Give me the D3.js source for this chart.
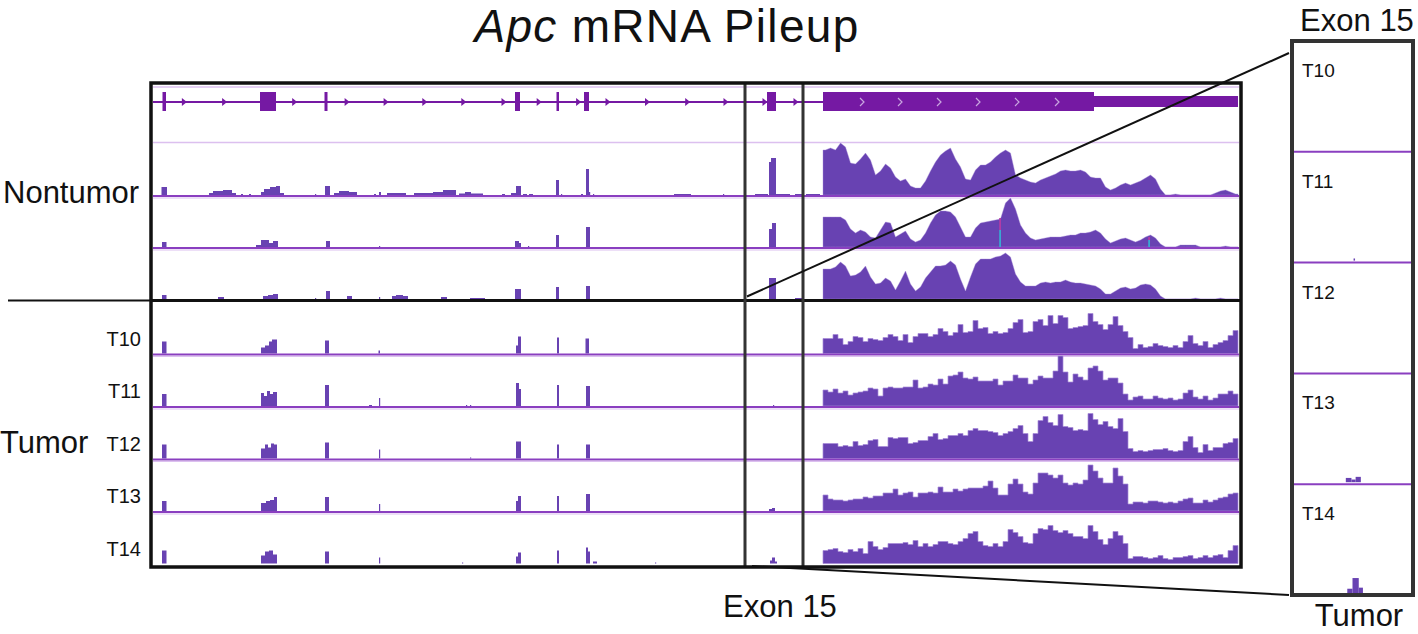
<!DOCTYPE html>
<html><head><meta charset="utf-8">
<script src="https://cdn.jsdelivr.net/npm/d3@7"></script>
<style>body{margin:0;background:#fff}svg{display:block}text{font-family:"Liberation Sans",Arial,Helvetica,sans-serif;fill:#111}</style>
</head><body><svg id="chart" width="1418" height="634"></svg>
<script>
// ---------------- DATA (positions in kb along the Apc locus, coverage in reads-scale units) ----------------
const locusKb = [0, 108.6];
const exonBoxKb = [59.2, 65.0];            // boxed region around exon 15
const exons = [
  {s:0.95, e:1.3,  t:"cds"}, {s:10.7, e:12.3, t:"cds"}, {s:17.15, e:17.45, t:"cds"},
  {s:36.2, e:36.7, t:"cds"}, {s:40.35, e:40.6, t:"cds"}, {s:43.1, e:43.6, t:"cds"},
  {s:61.4, e:62.3, t:"cds"}, {s:67.0, e:94.1, t:"cds"}, {s:94.1, e:108.5, t:"utr"}
];
const intronArrowsKb = [3.14, 7.16, 14.17, 19.41, 23.31, 27.18, 31.08, 35.1, 38.62, 42.56, 45.5, 49.45, 53.47, 57.3, 61.2, 64.3];
const chevronsKb = [70.9, 74.7, 78.6, 82.5, 86.4, 90.4];

const nontumorSamples = ["N1", "N2", "N3"];
const tumorSamples = ["T10", "T11", "T12", "T13", "T14"];

// last exon coverage: bins of 0.5 kb starting at 67.0 kb
const binStartKb = 67.0, binWidthKb = 0.5;
const covN1 = [45,47,45,52,48,32,31,36,42,35,20,24,31,27,18,14,16,9,7,7,14,24,33,40,44,47,36,28,16,15,25,30,30,33,38,42,45,42,20,17,15,13,12,15,17,19,21,24,25,24,24,25,23,18,17,17,8,5,7,10,12,10,12,14,17,20,16,6,0,0,1,0,0,0,0,0,0,0,2,4,5,3,1];
const covN2 = [30,30,30,30,27,18,14,17,15,10,9,17,25,24,10,13,16,8,5,7,14,24,32,36,36,35,30,20,10,10,19,24,25,26,27,28,44,49,38,22,14,9,7,8,9,10,10,10,11,12,12,14,14,15,17,14,8,4,6,8,9,7,5,7,10,12,9,3,0,0,0,2,2,2,2,0,0,0,0,0,1,0,0];
const covN3 = [30,30,32,37,33,23,24,27,33,22,15,16,21,18,9,18,28,15,8,12,21,27,33,33,34,38,34,20,8,22,35,40,40,40,42,43,46,42,25,17,13,13,13,16,17,16,17,17,19,17,16,16,15,14,13,10,5,5,8,11,12,10,11,14,15,14,10,3,0,0,0,0,0,0,1,0,0,0,0,1,0,0,0];
const covT10 = [15,15,19,15,9,12,17,16,12,15,14,13,16,19,17,13,19,11,17,20,20,17,19,25,22,18,21,29,21,22,33,25,26,20,22,20,21,25,31,34,21,22,32,34,28,38,30,38,36,25,26,27,28,40,32,29,24,29,37,28,22,16,5,9,6,7,10,8,7,6,8,6,12,18,10,8,12,6,9,11,13,18,23];
const covT11 = [16,14,17,13,15,11,13,14,15,18,17,10,18,19,18,18,19,19,26,18,19,22,21,27,22,30,31,34,28,27,29,25,25,25,27,21,25,25,31,28,28,22,26,30,28,28,35,50,34,24,32,29,26,38,40,35,26,28,28,23,12,6,9,10,7,7,10,8,7,8,6,7,13,16,9,7,10,6,8,12,12,15,12];
const covT12 = [15,15,15,12,13,12,17,13,14,18,19,12,12,21,20,21,21,15,16,18,18,22,25,19,20,23,23,25,23,28,30,28,28,27,26,23,25,27,30,33,25,17,25,38,42,36,33,44,32,31,28,29,28,45,39,34,37,32,30,40,27,10,7,8,7,8,9,9,10,8,7,8,17,22,11,6,14,8,11,11,15,16,20];
const covT13 = [16,12,11,11,10,11,12,12,14,13,15,15,18,18,22,16,18,19,14,18,18,19,18,24,19,19,22,20,22,23,23,23,25,30,23,16,16,27,32,27,19,17,28,38,38,36,33,36,28,26,28,27,31,46,40,33,28,28,43,35,27,7,9,9,8,10,10,9,8,9,8,10,12,13,8,8,11,9,11,13,14,17,18];
const covT14 = [13,14,15,12,11,14,12,15,10,22,17,14,16,20,20,20,21,19,23,17,20,17,19,22,22,20,19,22,25,30,32,22,18,17,20,17,22,34,31,27,21,20,30,35,34,38,33,31,33,30,27,27,25,38,32,24,19,25,32,28,20,5,7,7,6,5,6,8,5,4,6,6,7,8,5,6,8,6,8,9,6,13,18];

// upstream exon / intron coverage: [startKb, endKb, value]
const peaksN1 = [[0.85,1.4,8],[5.6,6.0,2],[6.0,7.0,4],[7.0,7.9,5],[7.9,8.3,2],[8.8,9.0,1],[9.6,9.8,1],[10.8,11.1,3],[11.1,11.7,6],[11.7,12.3,8],[12.3,12.7,9],[12.7,13.1,2],[16.2,16.3,1],[17.2,17.7,9],[18.1,18.6,2],[18.6,19.6,4],[19.6,20.4,3],[22.1,22.3,1],[22.6,22.8,3],[23.4,25.3,2],[26.1,28.0,2],[28.0,29.0,3],[29.0,30.3,5],[30.6,31.2,1.5],[31.2,31.8,3],[31.8,33.0,1.5],[34.9,35.2,1],[35.8,36.3,2],[36.3,36.8,9],[37.0,37.4,1],[37.6,38.0,1],[40.3,40.6,15],[40.8,40.9,1],[42.8,43.0,1],[43.3,43.6,26],[43.6,43.7,3],[44.0,44.1,1],[52.1,53.8,1],[57.0,57.1,1],[60.2,61.5,1],[61.6,61.8,33],[61.8,62.3,37],[62.3,63.7,1],[64.2,65.0,1],[65.3,66.7,1]];
const peaksN2 = [[0.9,1.35,5],[10.3,10.8,2],[10.8,11.6,7],[11.6,12.0,4],[12.0,12.5,6],[17.3,17.7,6],[22.6,22.7,1],[36.2,36.6,6],[36.6,36.8,4],[37.5,37.6,1],[40.3,40.6,12],[43.3,43.7,20],[61.6,61.9,18],[61.9,62.3,24]];
const peaksN3 = [[0.9,1.35,4],[6.5,7.1,2],[11.0,11.5,3],[11.5,12.0,4],[12.0,12.5,5],[16.2,16.3,1],[17.3,17.7,8],[19.4,19.9,3],[22.6,22.7,2],[23.9,24.3,3],[24.3,25.0,4],[25.0,25.5,3],[28.8,29.4,2],[31.7,33.2,1],[36.2,36.8,10],[40.3,40.6,12],[43.3,43.7,13],[61.6,62.3,21],[64.2,64.9,1]];
const peaksT10 = [[0.9,1.35,12],[10.8,11.2,6],[11.2,11.6,8],[11.6,11.9,12],[11.9,12.4,14],[17.2,17.6,13],[22.55,22.7,3],[36.3,36.5,8],[36.5,36.8,17],[40.4,40.6,16],[43.25,43.6,15]];
const peaksT11 = [[0.9,1.35,12],[10.8,11.1,13],[11.1,11.4,10],[11.4,11.7,15],[11.7,12.0,12],[12.0,12.4,14],[17.2,17.6,21],[21.6,21.9,1],[22.6,22.7,8],[31.3,31.4,1],[31.7,31.8,1],[36.3,36.6,23],[36.6,36.8,17],[40.4,40.6,21],[43.3,43.7,20],[62.0,62.1,1]];
const peaksT12 = [[0.9,1.35,14],[10.8,11.2,10],[11.2,11.5,14],[11.5,11.8,11],[11.8,12.1,15],[12.1,12.4,14],[17.2,17.6,16],[22.6,22.7,9],[31.7,31.8,1],[36.3,36.8,17],[40.4,40.6,14],[43.3,43.7,14]];
const peaksT13 = [[0.9,1.35,10],[10.8,11.3,8],[11.3,11.7,10],[11.7,12.1,11],[12.1,12.4,14],[17.2,17.6,14],[22.6,22.7,7],[36.3,36.5,10],[36.5,36.8,15],[40.4,40.6,15],[43.3,43.7,17],[61.6,61.9,2],[61.9,62.2,3]];
const peaksT14 = [[0.9,1.35,13],[10.8,11.2,8],[11.2,11.6,12],[11.6,12.0,13],[12.0,12.4,9],[17.2,17.6,12],[22.6,22.7,6],[30.9,31.0,1],[36.3,36.5,7],[36.5,36.8,11],[40.4,40.6,13],[43.3,43.5,16],[43.5,43.7,12],[44.0,44.4,2],[50.2,50.3,1],[61.7,61.9,3],[61.9,62.2,6],[62.2,62.4,2]];

// mismatch bars in nontumor sample 2: [kb, lowerValue, upperValue]
const mismatchN2 = [[84.7, 17, 29], [99.6, 7, 10]];

// exon 15 zoom (tumor), autoscaled: [startKb, endKb, value]
const zoomT10 = [];
const zoomT11 = [[62.15, 62.22, 2]];
const zoomT12 = [];
const zoomT13 = [[61.78, 62.05, 4], [62.05, 62.25, 2.5], [62.25, 62.5, 5]];
const zoomT14 = [[61.85, 62.1, 4], [62.1, 62.4, 14], [62.4, 62.6, 5]];

// ---------------- DRAWING ----------------
const svg = d3.select("#chart");
const frame = {x0: 151, x1: 1241, y0: 83, y1: 567};
const x = d3.scaleLinear().domain(locusKb).range([153, 1239]);

const COV = "#6842b2", COV_EDGE = "#a68ad9", GENE = "#7519a3", LINE = "#8a3fc0", LAV = "#dcc0ef";

// title
const title = svg.append("text").attr("x", 667).attr("y", 42).attr("text-anchor", "middle")
  .attr("font-size", 46).attr("letter-spacing", 1.3);
title.append("tspan").attr("font-style", "italic").text("Apc");
title.append("tspan").text(" mRNA Pileup");

// gene track
const geneY = 102;
svg.append("line").attr("x1", x(0)).attr("x2", x(67.0)).attr("y1", geneY).attr("y2", geneY).attr("stroke", GENE).attr("stroke-width", 2);
svg.selectAll(".exon").data(exons).join("rect")
  .attr("x", d => x(d.s)).attr("width", d => Math.max(2.5, x(d.e) - x(d.s)))
  .attr("y", d => d.t === "cds" ? geneY - 10 : geneY - 6)
  .attr("height", d => d.t === "cds" ? 19 : 11)
  .attr("fill", GENE);
svg.selectAll(".arrow").data(intronArrowsKb).join("path")
  .attr("d", d => `M${x(d) - 2.5},${geneY - 4} L${x(d) + 2.5},${geneY} L${x(d) - 2.5},${geneY + 4} Z`)
  .attr("fill", GENE);
svg.selectAll(".chev").data(chevronsKb).join("path")
  .attr("d", d => `M${x(d) - 2},${geneY - 4} L${x(d) + 2},${geneY} L${x(d) - 2},${geneY + 4}`)
  .attr("fill", "none").attr("stroke", "#c9a6e0").attr("stroke-width", 1.2);
svg.append("line").attr("x1", 153).attr("x2", 1239).attr("y1", 87).attr("y2", 87).attr("stroke", LAV).attr("stroke-width", 1.5);
svg.append("line").attr("x1", 153).attr("x2", 1239).attr("y1", 142.5).attr("y2", 142.5).attr("stroke", LAV).attr("stroke-width", 1.5);

// track layout
const ntBase = d3.scaleLinear().domain([0, 1]).range([195, 247]);   // baseline per nontumor index
const tBase = d3.scaleLinear().domain([0, 1]).range([353.5, 406]);  // baseline per tumor index
const trackH = 52;

function drawTrack(baseline, cov, peaks, linear) {
  const y = d3.scaleLinear().domain([0, 52]).range([baseline, baseline - trackH]);
  const g = svg.append("g");
  g.selectAll("rect").data(peaks).join("rect")
    .attr("x", d => x(d[0])).attr("width", d => Math.max(1.2, x(d[1]) - x(d[0])))
    .attr("y", d => y(d[2])).attr("height", d => baseline - y(d[2]))
    .attr("fill", COV);
  let pts;
  if (linear) {
    pts = [[binStartKb, cov[0]]];
    cov.forEach((v, i) => pts.push([binStartKb + (i + 0.5) * binWidthKb, v]));
    pts.push([binStartKb + cov.length * binWidthKb, cov[cov.length - 1]]);
  } else {
    pts = cov.map((v, i) => [binStartKb + i * binWidthKb, v]);
    pts.push([binStartKb + cov.length * binWidthKb, cov[cov.length - 1]]);
  }
  const area = d3.area().x(d => x(d[0])).y0(baseline).y1(d => y(d[1]))
    .curve(linear ? d3.curveLinear : d3.curveStepAfter);
  g.append("path").attr("d", area(pts)).attr("fill", COV)
    .attr("stroke", COV_EDGE).attr("stroke-width", linear ? 0.4 : 0.7).attr("stroke-linejoin", "round");
  return y;
}
function baseLine(baseline) {
  svg.append("line").attr("x1", 153).attr("x2", 1239).attr("y1", baseline + 1).attr("y2", baseline + 1).attr("stroke", LINE).attr("stroke-width", 2);
  svg.append("line").attr("x1", 153).attr("x2", 1239).attr("y1", baseline + 3).attr("y2", baseline + 3).attr("stroke", LAV).attr("stroke-width", 1.2);
}

const ntCov = [covN1, covN2, covN3], ntPeaks = [peaksN1, peaksN2, peaksN3];
nontumorSamples.forEach((s, i) => {
  const b = ntBase(i);
  const y = drawTrack(b, ntCov[i], ntPeaks[i], true);
  if (i === 1) {
    mismatchN2.forEach(m => {
      svg.append("rect").attr("x", x(m[0]) - 0.8).attr("width", 1.8).attr("y", y(m[1])).attr("height", b - y(m[1])).attr("fill", "#3aa7d2");
      svg.append("rect").attr("x", x(m[0]) - 0.8).attr("width", 1.8).attr("y", y(m[2])).attr("height", y(m[1]) - y(m[2])).attr("fill", "#b23ba6");
    });
  }
  if (i < 2) baseLine(b);
});

const tCov = [covT10, covT11, covT12, covT13, covT14];
const tPeaks = [peaksT10, peaksT11, peaksT12, peaksT13, peaksT14];
tumorSamples.forEach((s, i) => {
  const b = tBase(i);
  drawTrack(b, tCov[i], tPeaks[i], false);
  if (i < 4) baseLine(b);
  svg.append("text").attr("x", 141).attr("y", b - 8).attr("text-anchor", "end").attr("font-size", 20).text(s);
});

// group labels
svg.append("text").attr("x", 3).attr("y", 203).attr("font-size", 31).text("Nontumor");
svg.append("text").attr("x", 0).attr("y", 453).attr("font-size", 31).text("Tumor");

// frame, separator, exon box
svg.append("line").attr("x1", 8).attr("x2", frame.x0).attr("y1", 300.5).attr("y2", 300.5).attr("stroke", "#111").attr("stroke-width", 2);
svg.append("line").attr("x1", frame.x0).attr("x2", frame.x1).attr("y1", 300.5).attr("y2", 300.5).attr("stroke", "#111").attr("stroke-width", 3);
exonBoxKb.forEach(k => {
  svg.append("line").attr("x1", x(k)).attr("x2", x(k)).attr("y1", frame.y0).attr("y2", frame.y1).attr("stroke", "#333").attr("stroke-width", 3);
});
svg.append("rect").attr("x", frame.x0).attr("y", frame.y0).attr("width", frame.x1 - frame.x0).attr("height", frame.y1 - frame.y0)
  .attr("fill", "none").attr("stroke", "#111").attr("stroke-width", 3.5);

// zoom panel
const zp = {x0: 1292, x1: 1413, y0: 41, y1: 595};
const zx = d3.scaleLinear().domain(exonBoxKb).range([zp.x0, zp.x1]);
const zRows = d3.scaleBand().domain(tumorSamples).range([zp.y0, zp.y1]);
const zoomData = [zoomT10, zoomT11, zoomT12, zoomT13, zoomT14];
tumorSamples.forEach((s, i) => {
  const top = zRows(s), bot = top + zRows.bandwidth();
  const zy = d3.scaleLinear().domain([0, 100]).range([bot - 2, top + 2]);
  svg.append("g").selectAll("rect").data(zoomData[i]).join("rect")
    .attr("x", d => zx(d[0])).attr("width", d => Math.max(1.5, zx(d[1]) - zx(d[0])))
    .attr("y", d => zy(d[2])).attr("height", d => (bot - 2) - zy(d[2])).attr("fill", COV);
  if (i < 4) svg.append("line").attr("x1", zp.x0).attr("x2", zp.x1).attr("y1", bot).attr("y2", bot).attr("stroke", LINE).attr("stroke-width", 2);
  svg.append("text").attr("x", zp.x0 + 10).attr("y", top + 36).attr("font-size", 19).text(s);
});
svg.append("rect").attr("x", zp.x0).attr("y", zp.y0).attr("width", zp.x1 - zp.x0).attr("height", zp.y1 - zp.y0)
  .attr("fill", "none").attr("stroke", "#333").attr("stroke-width", 4);

// connector lines
svg.append("line").attr("x1", 747).attr("y1", 296.5).attr("x2", zp.x0 - 3).attr("y2", 53).attr("stroke", "#111").attr("stroke-width", 2);
svg.append("line").attr("x1", 752).attr("y1", 566).attr("x2", zp.x0 - 3).attr("y2", 595).attr("stroke", "#111").attr("stroke-width", 2);

// labels
svg.append("text").attr("x", 780).attr("y", 617).attr("text-anchor", "middle").attr("font-size", 31).text("Exon 15");
svg.append("text").attr("x", 1357).attr("y", 31).attr("text-anchor", "middle").attr("font-size", 31).text("Exon 15");
svg.append("text").attr("x", 1359).attr("y", 626).attr("text-anchor", "middle").attr("font-size", 31).text("Tumor");
</script></body></html>
